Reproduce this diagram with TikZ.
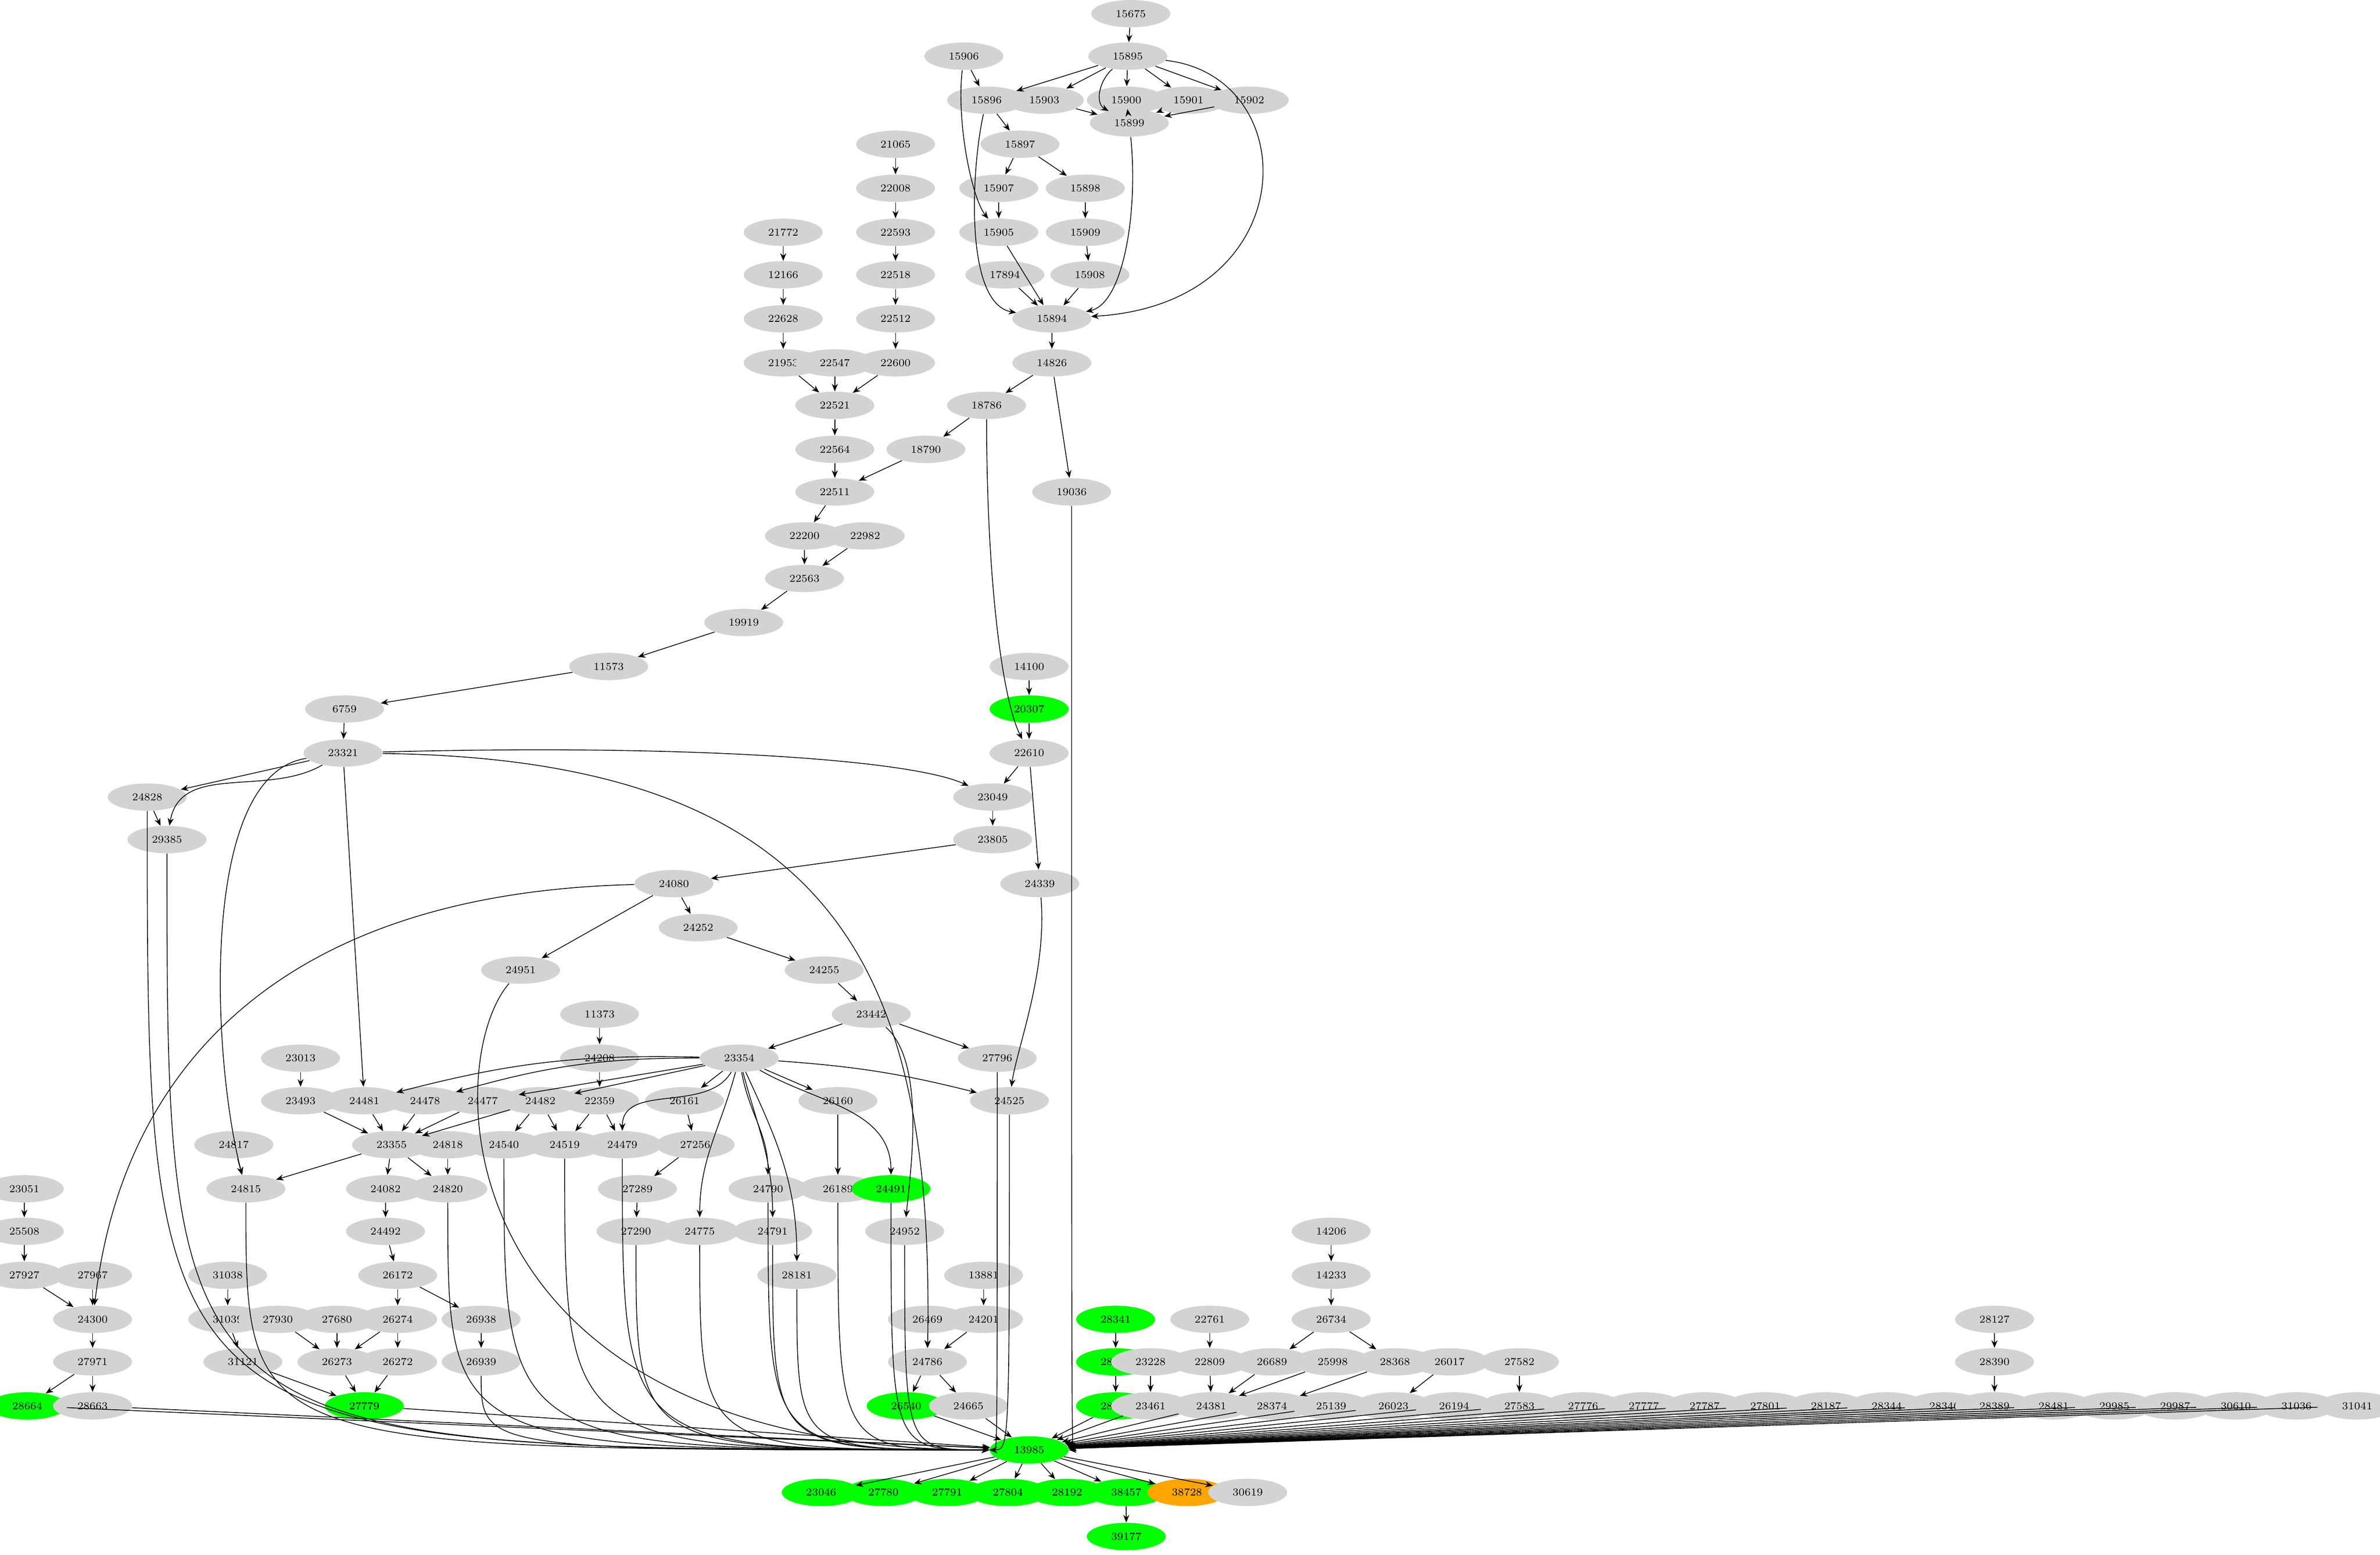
\documentclass[tikz,border=0pt]{standalone}
\usepackage{tikz}
\usetikzlibrary{shapes.geometric,arrows.meta,positioning}
\definecolor{gvgray}{HTML}{D3D3D3}
\definecolor{gvgreen}{HTML}{00FF00}
\definecolor{gvorange}{HTML}{FFA500}
\begin{document}
\begin{tikzpicture}
                    [
                        x=1pt, y=-1pt,
                        graynode/.style={ellipse, fill=gvgray, minimum width=52pt, minimum height=18pt, inner sep=0pt, font=\fontsize{7}{8}\selectfont},
                        greennode/.style={graynode, fill=gvgreen},
                        orangenode/.style={graynode, fill=gvorange},
                        edge/.style={-{Stealth[length=5pt,width=4pt]}, line width=0.5pt},
                    ]
                    \useasboundingbox (0,0) rectangle (1568,1024);

                    % upper part
                    \node[graynode] (n15675) at (745,9) {15675};
                    \node[graynode] (n15906) at (635,37) {15906};
                    \node[graynode] (n15895) at (743,37) {15895};
                    \node[graynode] (n15896) at (650,66) {15896};
                    \node[graynode] (n15903) at (688,66) {15903};
                    \node[graynode] (n15900) at (742,66) {15900};
                    \node[graynode] (n15901) at (783,66) {15901};
                    \node[graynode] (n15902) at (823,66) {15902};
                    \node[graynode] (n15899) at (744,81) {15899};
                    \node[graynode] (n15897) at (672,95) {15897};
                    \node[graynode] (n21065) at (590,95) {21065};
                    \node[graynode] (n22008) at (590,124) {22008};
                    \node[graynode] (n15907) at (658,124) {15907};
                    \node[graynode] (n15898) at (715,124) {15898};
                    \node[graynode] (n21772) at (516,153) {21772};
                    \node[graynode] (n22593) at (590,153) {22593};
                    \node[graynode] (n15905) at (658,153) {15905};
                    \node[graynode] (n15909) at (715,153) {15909};
                    \node[graynode] (n12166) at (516,181) {12166};
                    \node[graynode] (n22518) at (590,181) {22518};
                    \node[graynode] (n17894) at (662,181) {17894};
                    \node[graynode] (n15908) at (718,181) {15908};
                    \node[graynode] (n22628) at (516,210) {22628};
                    \node[graynode] (n22512) at (590,210) {22512};
                    \node[graynode] (n15894) at (693,210) {15894};
                    \node[graynode] (n21953) at (516,239) {21953};
                    \node[graynode] (n22547) at (550,239) {22547};
                    \node[graynode] (n22600) at (590,239) {22600};
                    \node[graynode] (n14826) at (693,239) {14826};
                    \node[graynode] (n22521) at (550,267) {22521};
                    \node[graynode] (n18786) at (650,267) {18786};
                    \node[graynode] (n22564) at (550,296) {22564};
                    \node[graynode] (n18790) at (610,296) {18790};
                    \node[graynode] (n22511) at (550,324) {22511};
                    \node[graynode] (n19036) at (706,324) {19036};
                    \node[graynode] (n22200) at (530,353) {22200};
                    \node[graynode] (n22982) at (570,353) {22982};
                    \node[graynode] (n22563) at (530,381) {22563};
                    \node[graynode] (n19919) at (490,410) {19919};
                    \node[graynode] (n11573) at (401,439) {11573};
                    \node[graynode] (n14100) at (678,439) {14100};
                    \node[graynode] (n6759) at (227,467) {6759};
                    \node[greennode] (n20307) at (678,467) {20307};
                    \node[graynode] (n23321) at (226,496) {23321};
                    \node[graynode] (n22610) at (678,496) {22610};
                    \node[graynode] (n24828) at (97,525) {24828};
                    \node[graynode] (n23049) at (654,525) {23049};
                    \node[graynode] (n29385) at (110,553) {29385};
                    \node[graynode] (n23805) at (654,553) {23805};
                    \node[graynode] (n24080) at (444,582) {24080};
                    \node[graynode] (n24339) at (685,582) {24339};
                    \node[graynode] (n24252) at (460,611) {24252};
                    \node[graynode] (n24951) at (343,639) {24951};
                    \node[graynode] (n24255) at (543,639) {24255};
                    \node[graynode] (n11373) at (395,668) {11373};
                    \node[graynode] (n23442) at (574,668) {23442};
                    \node[graynode] (n23013) at (198,697) {23013};
                    \node[graynode] (n24208) at (395,697) {24208};
                    \node[graynode] (n23354) at (487,697) {23354};
                    \node[graynode] (n27796) at (657,697) {27796};

                    % middle part
                    \node[graynode] (n23493) at (198,725) {23493};
                    \node[graynode] (n24481) at (240,725) {24481};
                    \node[graynode] (n24478) at (280,725) {24478};
                    \node[graynode] (n24477) at (318,725) {24477};
                    \node[graynode] (n24482) at (356,725) {24482};
                    \node[graynode] (n22359) at (395,725) {22359};
                    \node[graynode] (n26161) at (451,725) {26161};
                    \node[graynode] (n26160) at (552,725) {26160};
                    \node[graynode] (n24525) at (665,725) {24525};
                    \node[graynode] (n24817) at (154,754) {24817};
                    \node[graynode] (n23355) at (258,754) {23355};
                    \node[graynode] (n24818) at (295,754) {24818};
                    \node[graynode] (n24540) at (332,754) {24540};
                    \node[graynode] (n24519) at (372,754) {24519};
                    \node[graynode] (n24479) at (410,754) {24479};
                    \node[graynode] (n27256) at (458,754) {27256};
                    \node[graynode] (n23051) at (16,783) {23051};
                    \node[graynode] (n24815) at (162,783) {24815};
                    \node[graynode] (n24082) at (254,783) {24082};
                    \node[graynode] (n24820) at (295,783) {24820};
                    \node[graynode] (n27289) at (420,783) {27289};
                    \node[graynode] (n24790) at (506,783) {24790};
                    \node[graynode] (n26189) at (552,783) {26189};
                    \node[greennode] (n24491) at (587,783) {24491};
                    \node[graynode] (n25508) at (16,811) {25508};
                    \node[graynode] (n24492) at (254,811) {24492};
                    \node[graynode] (n27290) at (419,811) {27290};
                    \node[graynode] (n24775) at (461,811) {24775};
                    \node[graynode] (n24791) at (509,811) {24791};
                    \node[graynode] (n24952) at (596,811) {24952};
                    \node[graynode] (n14206) at (877,811) {14206};
                    \node[graynode] (n27927) at (16,840) {27927};
                    \node[graynode] (n27967) at (61,840) {27967};
                    \node[graynode] (n31038) at (150,840) {31038};
                    \node[graynode] (n26172) at (262,840) {26172};
                    \node[graynode] (n28181) at (525,840) {28181};
                    \node[graynode] (n13881) at (648,840) {13881};
                    \node[graynode] (n14233) at (877,840) {14233};
                    \node[graynode] (n24300) at (61,869) {24300};
                    \node[graynode] (n31039) at (150,869) {31039};
                    \node[graynode] (n27930) at (183,869) {27930};
                    \node[graynode] (n27680) at (222,869) {27680};
                    \node[graynode] (n26274) at (262,869) {26274};
                    \node[graynode] (n26938) at (317,869) {26938};
                    \node[graynode] (n26469) at (611,869) {26469};
                    \node[graynode] (n24201) at (648,869) {24201};
                    \node[greennode] (n28341) at (735,869) {28341};
                    \node[graynode] (n22761) at (797,869) {22761};
                    \node[graynode] (n26734) at (877,869) {26734};
                    \node[graynode] (n28127) at (1314,869) {28127};
                    \node[graynode] (n27971) at (61,897) {27971};
                    \node[graynode] (n31121) at (160,897) {31121};
                    \node[graynode] (n26273) at (222,897) {26273};
                    \node[graynode] (n26272) at (262,897) {26272};
                    \node[graynode] (n26939) at (317,897) {26939};
                    \node[graynode] (n24786) at (611,897) {24786};
                    \node[greennode] (n28342) at (735,897) {28342};
                    \node[graynode] (n23228) at (758,897) {23228};
                    \node[graynode] (n22809) at (797,897) {22809};
                    \node[graynode] (n26689) at (838,897) {26689};
                    \node[graynode] (n25998) at (878,897) {25998};
                    \node[graynode] (n28368) at (919,897) {28368};
                    \node[graynode] (n26017) at (955,897) {26017};
                    \node[graynode] (n27582) at (1001,897) {27582};
                    \node[graynode] (n28390) at (1314,897) {28390};

                    % lower part
                    \node[greennode] (n28664) at (18,926) {28664};
                    \node[graynode] (n28663) at (61,926) {28663};
                    \node[greennode] (n27779) at (240,926) {27779};
                    \node[greennode] (n26540) at (597,926) {26540};
                    \node[graynode] (n24665) at (638,926) {24665};
                    \node[greennode] (n28343) at (735,926) {28343};
                    \node[graynode] (n23461) at (758,926) {23461};
                    \node[graynode] (n24381) at (798,926) {24381};
                    \node[graynode] (n28374) at (838,926) {28374};
                    \node[graynode] (n25139) at (877,926) {25139};
                    \node[graynode] (n26023) at (918,926) {26023};
                    \node[graynode] (n26194) at (958,926) {26194};
                    \node[graynode] (n27583) at (1001,926) {27583};
                    \node[graynode] (n27776) at (1043,926) {27776};
                    \node[graynode] (n27777) at (1083,926) {27777};
                    \node[graynode] (n27787) at (1123,926) {27787};
                    \node[graynode] (n27801) at (1163,926) {27801};
                    \node[graynode] (n28187) at (1203,926) {28187};
                    \node[graynode] (n28344) at (1243,926) {28344};
                    \node[graynode] (n28346) at (1281,926) {28346};
                    \node[graynode] (n28389) at (1314,926) {28389};
                    \node[graynode] (n28481) at (1353,926) {28481};
                    \node[graynode] (n29985) at (1393,926) {29985};
                    \node[graynode] (n29987) at (1433,926) {29987};
                    \node[graynode] (n30610) at (1473,926) {30610};
                    \node[graynode] (n31036) at (1513,926) {31036};
                    \node[graynode] (n31041) at (1553,926) {31041};
                    \node[greennode] (n13985) at (678,955) {13985};
                    \node[greennode] (n23046) at (541,983) {23046};
                    \node[greennode] (n27780) at (582,983) {27780};
                    \node[greennode] (n27791) at (624,983) {27791};
                    \node[greennode] (n27804) at (664,983) {27804};
                    \node[greennode] (n28192) at (703,983) {28192};
                    \node[greennode] (n38457) at (742,983) {38457};
                    \node[orangenode] (n38728) at (782,983) {38728};
                    \node[graynode] (n30619) at (822,983) {30619};
                    \node[greennode] (n39177) at (742,1012) {39177};

                    % edges, upper part
                    \draw[edge] (n15675) -- (n15895);
                    \draw[edge] (n15895) -- (n15896);
                    \draw[edge] (n15895) -- (n15903);
                    \draw[edge] (n15895) -- (n15900);
                    \draw[edge] (n15895) -- (n15901);
                    \draw[edge] (n15895) -- (n15902);
                    \draw[edge] (n15895) to[out=-140,in=150] (n15899);
                    \draw[edge] (n15895) .. controls (860,50) and (860,200) .. (n15894);
                    \draw[edge] (n15906) -- (n15896);
                    \draw[edge] (n15906) .. controls (630,80) and (640,130) .. (n15905);
                    \draw[edge] (n15896) .. controls (640,110) and (635,200) .. (n15894);
                    \draw[edge] (n15896) -- (n15897);
                    \draw[edge] (n15903) -- (n15899);
                    \draw[edge] (n15900) -- (n15899);
                    \draw[edge] (n15901) -- (n15899);
                    \draw[edge] (n15902) -- (n15899);
                    \draw[edge] (n15899) .. controls (750,140) and (740,200) .. (n15894);
                    \draw[edge] (n15897) -- (n15907);
                    \draw[edge] (n15897) -- (n15898);
                    \draw[edge] (n15907) -- (n15905);
                    \draw[edge] (n15898) -- (n15909);
                    \draw[edge] (n15909) -- (n15908);
                    \draw[edge] (n15908) -- (n15894);
                    \draw[edge] (n17894) -- (n15894);
                    \draw[edge] (n15905) -- (n15894);
                    \draw[edge] (n15894) -- (n14826);
                    \draw[edge] (n14826) -- (n18786);
                    \draw[edge] (n14826) -- (n19036);
                    \draw[edge] (n18786) -- (n18790);
                    \draw[edge] (n18786) .. controls (650,380) and (660,460) .. (n22610);
                    \draw[edge] (n18790) -- (n22511);
                    \draw[edge] (n21065) -- (n22008);
                    \draw[edge] (n22008) -- (n22593);
                    \draw[edge] (n22593) -- (n22518);
                    \draw[edge] (n22518) -- (n22512);
                    \draw[edge] (n22512) -- (n22600);
                    \draw[edge] (n22600) -- (n22521);
                    \draw[edge] (n21772) -- (n12166);
                    \draw[edge] (n12166) -- (n22628);
                    \draw[edge] (n22628) -- (n21953);
                    \draw[edge] (n21953) -- (n22521);
                    \draw[edge] (n22547) -- (n22521);
                    \draw[edge] (n22521) -- (n22564);
                    \draw[edge] (n22564) -- (n22511);
                    \draw[edge] (n22511) -- (n22200);
                    \draw[edge] (n22200) -- (n22563);
                    \draw[edge] (n22982) -- (n22563);
                    \draw[edge] (n22563) -- (n19919);
                    \draw[edge] (n19919) -- (n11573);
                    \draw[edge] (n11573) -- (n6759);
                    \draw[edge] (n6759) -- (n23321);
                    \draw[edge] (n14100) -- (n20307);
                    \draw[edge] (n20307) -- (n22610);
                    \draw[edge] (n22610) -- (n23049);
                    \draw[edge] (n22610) -- (n24339);
                    \draw[edge] (n23321) -- (n24828);
                    \draw[edge] (n23321) to[out=-150,in=80] (n29385);
                    \draw[edge] (n23321) .. controls (450,490) and (600,500) .. (n23049);
                    \draw[edge] (n23321) .. controls (130,510) and (140,700) .. (n24815);
                    \draw[edge] (n23321) -- (n24481);
                    \draw[edge] (n23321) .. controls (560,500) and (615,650) .. (n24786);
                    \draw[edge] (n24828) -- (n29385);
                    \draw[edge] (n23049) -- (n23805);
                    \draw[edge] (n23805) -- (n24080);
                    \draw[edge] (n24080) -- (n24252);
                    \draw[edge] (n24080) -- (n24951);
                    \draw[edge] (n24080) .. controls (100,590) and (70,800) .. (n24300);
                    \draw[edge] (n24252) -- (n24255);
                    \draw[edge] (n24255) -- (n23442);
                    \draw[edge] (n23442) -- (n23354);
                    \draw[edge] (n23442) -- (n27796);
                    \draw[edge] (n23442) .. controls (610,700) and (600,770) .. (n24952);
                    \draw[edge] (n24339) .. controls (690,640) and (670,690) .. (n24525);
                    \draw[edge] (n11373) -- (n24208);
                    \draw[edge] (n24208) -- (n22359);
                    \draw[edge] (n23013) -- (n23493);

                    % edges, middle part
                    \draw[edge] (n23354) to[bend right=8] (n24481);
                    \draw[edge] (n23354) to[bend right=8] (n24478);
                    \draw[edge] (n23354) -- (n24477);
                    \draw[edge] (n23354) -- (n24482);
                    \draw[edge] (n23354) to[out=-120,in=90] (n24479);
                    \draw[edge] (n23354) -- (n26161);
                    \draw[edge] (n23354) -- (n26160);
                    \draw[edge] (n23354) to[bend left=5] (n24525);
                    \draw[edge] (n23354) to[out=-30,in=90] (n24491);
                    \draw[edge] (n23354) to[out=-105,in=90] (n24775);
                    \draw[edge] (n23354) to[out=-80,in=90] (n24790);
                    \draw[edge] (n23354) to[out=-75,in=90] (n24791);
                    \draw[edge] (n23354) to[out=-65,in=90] (n28181);
                    \draw[edge] (n23493) -- (n23355);
                    \draw[edge] (n24481) -- (n23355);
                    \draw[edge] (n24478) -- (n23355);
                    \draw[edge] (n24477) -- (n23355);
                    \draw[edge] (n24482) -- (n23355);
                    \draw[edge] (n24482) -- (n24540);
                    \draw[edge] (n24482) -- (n24519);
                    \draw[edge] (n22359) -- (n24519);
                    \draw[edge] (n22359) -- (n24479);
                    \draw[edge] (n26161) -- (n27256);
                    \draw[edge] (n27256) -- (n27289);
                    \draw[edge] (n27289) -- (n27290);
                    \draw[edge] (n26160) -- (n26189);
                    \draw[edge] (n23355) -- (n24815);
                    \draw[edge] (n23355) -- (n24082);
                    \draw[edge] (n23355) -- (n24820);
                    \draw[edge] (n24818) -- (n24820);
                    \draw[edge] (n24817) -- (n24815);
                    \draw[edge] (n24082) -- (n24492);
                    \draw[edge] (n24492) -- (n26172);
                    \draw[edge] (n26172) -- (n26274);
                    \draw[edge] (n26172) -- (n26938);
                    \draw[edge] (n26274) -- (n26273);
                    \draw[edge] (n26274) -- (n26272);
                    \draw[edge] (n27930) -- (n26273);
                    \draw[edge] (n27680) -- (n26273);
                    \draw[edge] (n26273) -- (n27779);
                    \draw[edge] (n26272) -- (n27779);
                    \draw[edge] (n31121) -- (n27779);
                    \draw[edge] (n31038) -- (n31039);
                    \draw[edge] (n31039) -- (n31121);
                    \draw[edge] (n26938) -- (n26939);
                    \draw[edge] (n23051) -- (n25508);
                    \draw[edge] (n25508) -- (n27927);
                    \draw[edge] (n27927) -- (n24300);
                    \draw[edge] (n27967) -- (n24300);
                    \draw[edge] (n24300) -- (n27971);
                    \draw[edge] (n27971) -- (n28664);
                    \draw[edge] (n27971) -- (n28663);
                    \draw[edge] (n13881) -- (n24201);
                    \draw[edge] (n24201) -- (n24786);
                    \draw[edge] (n26469) -- (n24786);
                    \draw[edge] (n24786) -- (n26540);
                    \draw[edge] (n24786) -- (n24665);
                    \draw[edge] (n28341) -- (n28342);
                    \draw[edge] (n28342) -- (n28343);
                    \draw[edge] (n23228) -- (n23461);
                    \draw[edge] (n22761) -- (n22809);
                    \draw[edge] (n22809) -- (n24381);
                    \draw[edge] (n26689) -- (n24381);
                    \draw[edge] (n25998) -- (n24381);
                    \draw[edge] (n14206) -- (n14233);
                    \draw[edge] (n14233) -- (n26734);
                    \draw[edge] (n26734) -- (n26689);
                    \draw[edge] (n26734) -- (n28368);
                    \draw[edge] (n28368) -- (n28374);
                    \draw[edge] (n26017) -- (n26023);
                    \draw[edge] (n27582) -- (n27583);
                    \draw[edge] (n28127) -- (n28390);
                    \draw[edge] (n28390) -- (n28389);

                    % edges into 13985 from far above
                    \draw[edge] (n24828) .. controls (n24828 |- n13985) .. (n13985);
                    \draw[edge] (n29385) .. controls (n29385 |- n13985) .. (n13985);
                    \draw[edge] (n24951) .. controls (290,700) and (290,955) .. (n13985);
                    \draw[edge] (n24815) .. controls (n24815 |- n13985) .. (n13985);
                    \draw[edge] (n24820) .. controls (n24820 |- n13985) .. (n13985);
                    \draw[edge] (n24540) .. controls (n24540 |- n13985) .. (n13985);
                    \draw[edge] (n24519) .. controls (n24519 |- n13985) .. (n13985);
                    \draw[edge] (n24479) .. controls (n24479 |- n13985) .. (n13985);
                    \draw[edge] (n26939) .. controls (n26939 |- n13985) .. (n13985);
                    \draw[edge] (n27290) .. controls (n27290 |- n13985) .. (n13985);
                    \draw[edge] (n24775) .. controls (n24775 |- n13985) .. (n13985);
                    \draw[edge] (n24790) .. controls (n24790 |- n13985) .. (n13985);
                    \draw[edge] (n24791) .. controls (n24791 |- n13985) .. (n13985);
                    \draw[edge] (n28181) .. controls (n28181 |- n13985) .. (n13985);
                    \draw[edge] (n26189) .. controls (n26189 |- n13985) .. (n13985);
                    \draw[edge] (n24491) .. controls (n24491 |- n13985) .. (n13985);
                    \draw[edge] (n24952) .. controls (n24952 |- n13985) .. (n13985);
                    \draw[edge] (n24525) .. controls (n24525 |- n13985) .. (n13985);
                    \draw[edge] (n27796) .. controls (n27796 |- n13985) .. (n13985);
                    \draw[edge] (n19036) .. controls (n19036 |- n13985) .. (n13985);

                    % edges into 13985 from the row above it
                    \draw[edge] (n28664) -- (n13985);
                    \draw[edge] (n28663) -- (n13985);
                    \draw[edge] (n27779) -- (n13985);
                    \draw[edge] (n26540) -- (n13985);
                    \draw[edge] (n24665) -- (n13985);
                    \draw[edge] (n28343) -- (n13985);
                    \draw[edge] (n23461) -- (n13985);
                    \draw[edge] (n24381) -- (n13985);
                    \draw[edge] (n28374) -- (n13985);
                    \draw[edge] (n25139) -- (n13985);
                    \draw[edge] (n26023) -- (n13985);
                    \draw[edge] (n26194) -- (n13985);
                    \draw[edge] (n27583) -- (n13985);
                    \draw[edge] (n27776) -- (n13985);
                    \draw[edge] (n27777) -- (n13985);
                    \draw[edge] (n27787) -- (n13985);
                    \draw[edge] (n27801) -- (n13985);
                    \draw[edge] (n28187) -- (n13985);
                    \draw[edge] (n28344) -- (n13985);
                    \draw[edge] (n28346) -- (n13985);
                    \draw[edge] (n28389) -- (n13985);
                    \draw[edge] (n28481) -- (n13985);
                    \draw[edge] (n29985) -- (n13985);
                    \draw[edge] (n29987) -- (n13985);
                    \draw[edge] (n30610) -- (n13985);
                    \draw[edge] (n31036) -- (n13985);
                    \draw[edge] (n31041) -- (n13985);

                    % edges out of 13985
                    \draw[edge] (n13985) -- (n23046);
                    \draw[edge] (n13985) -- (n27780);
                    \draw[edge] (n13985) -- (n27791);
                    \draw[edge] (n13985) -- (n27804);
                    \draw[edge] (n13985) -- (n28192);
                    \draw[edge] (n13985) -- (n38457);
                    \draw[edge] (n13985) -- (n38728);
                    \draw[edge] (n13985) -- (n30619);
                    \draw[edge] (n38457) -- (n39177);
                \end{tikzpicture}
\end{document}
